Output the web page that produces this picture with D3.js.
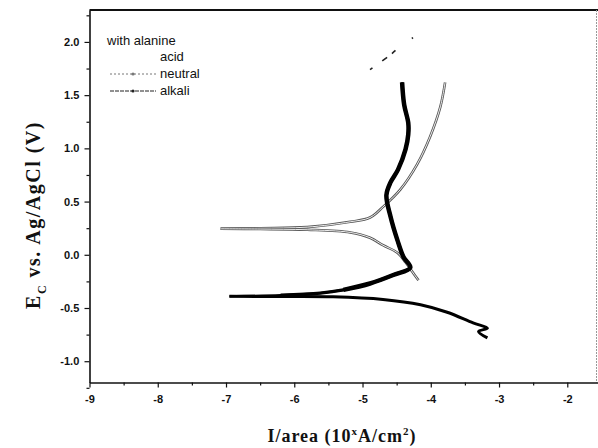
<!DOCTYPE html>
<html>
<head>
<meta charset="utf-8">
<script src="https://cdn.jsdelivr.net/npm/d3@7"></script>
<style>
  html, body { margin: 0; padding: 0; background: #fff; }
  svg { display: block; }
  .tick text { font-family: "Liberation Sans", Arial, sans-serif; font-weight: bold; font-size: 11px; fill: #111; }
  .axis-title { font-family: "Liberation Serif", "Times New Roman", serif; font-weight: bold; fill: #111; }
  .legend text { font-family: "Liberation Sans", Arial, sans-serif; font-size: 13px; fill: #111; }
</style>
</head>
<body>
<svg id="chart" width="598" height="448"></svg>
<script>
// ---- data: [log current density, potential V] ----
const xTicks = [-9, -8, -7, -6, -5, -4, -3, -2];
const yTicks = [-1.0, -0.5, 0.0, 0.5, 1.0, 1.5, 2.0];

const neutralUp = [
  [-7.08, 0.244], [-6.50, 0.25], [-5.81, 0.26], [-5.18, 0.31], [-4.89, 0.35],
  [-4.70, 0.45], [-4.45, 0.61], [-4.20, 0.85], [-4.01, 1.11], [-3.86, 1.39], [-3.79, 1.62]
];
const neutralDown = [
  [-7.08, 0.244], [-6.50, 0.242], [-5.81, 0.235], [-5.18, 0.21], [-4.89, 0.16],
  [-4.70, 0.09], [-4.49, 0.02], [-4.37, -0.07], [-4.27, -0.16], [-4.18, -0.24]
];
const alkaliUp = [
  [-6.95, -0.39], [-6.20, -0.378], [-5.62, -0.36], [-5.28, -0.33], [-4.89, -0.27],
  [-4.55, -0.19], [-4.30, -0.12], [-4.40, -0.02], [-4.49, 0.14], [-4.59, 0.36],
  [-4.65, 0.56], [-4.59, 0.68], [-4.48, 0.80], [-4.37, 0.99], [-4.33, 1.13],
  [-4.33, 1.24], [-4.39, 1.41], [-4.42, 1.62]
];
const alkaliDown = [
  [-6.95, -0.39], [-6.20, -0.392], [-5.43, -0.395], [-4.70, -0.42], [-4.15, -0.47],
  [-3.76, -0.54], [-3.38, -0.64], [-3.17, -0.69], [-3.30, -0.72], [-3.17, -0.78]
];
const acidTrace = [[-4.89, 1.74], [-4.59, 1.88], [-4.48, 1.94], [-4.26, 2.04]];

const legendHead = "with alanine";
const legendNames = ["acid", "neutral", "alkali"];

// ---- layout ----
const svg = d3.select("#chart");
const x = d3.scaleLinear().domain([-9, -1.55]).range([89.5, 598]);
const y = d3.scaleLinear().domain([-1.2, 2.3]).range([382.5, 10]);
const line = d3.line().x(d => x(d[0])).y(d => y(d[1])).curve(d3.curveCatmullRom.alpha(0.5));
const asciiFmt = p => d => d.toFixed(p);   // plain hyphen, like the original

// frame
svg.append("line").attr("x1", x(-9)).attr("x2", 598).attr("y1", y(2.3)).attr("y2", y(2.3))
  .attr("stroke", "#111").attr("stroke-width", 2);
svg.append("line").attr("x1", 596.5).attr("x2", 596.5).attr("y1", y(2.3)).attr("y2", y(-1.2))
  .attr("stroke", "#999").attr("stroke-width", 1).attr("stroke-dasharray", "2,1");

// axes
const xAxis = d3.axisBottom(x).tickValues(xTicks).tickSize(5).tickSizeOuter(0).tickFormat(asciiFmt(0));
const gx = svg.append("g").attr("transform", `translate(0,${y(-1.2)})`).call(xAxis);
gx.selectAll(".tick text").attr("dy", "1.1em");
svg.append("g").attr("transform", `translate(0,${y(-1.2)})`)
  .call(d3.axisBottom(x).tickValues(d3.range(-8.5, -1.5, 1)).tickSize(3).tickFormat(""))
  .select(".domain").remove();

const yAxis = d3.axisLeft(y).tickValues(yTicks).tickSize(5).tickSizeOuter(0).tickFormat(asciiFmt(1));
const gy = svg.append("g").attr("transform", `translate(${x(-9)},0)`).call(yAxis);
gy.selectAll(".tick text").attr("dx", "-0.2em");
svg.append("g").attr("transform", `translate(${x(-9)},0)`)
  .call(d3.axisLeft(y).tickValues(d3.range(-1.25, 2.3, 0.5)).tickSize(3).tickFormat(""))
  .select(".domain").remove();

svg.selectAll(".domain").attr("stroke", "#111").attr("stroke-width", 1.6);
svg.selectAll(".tick line").attr("stroke", "#111").attr("stroke-width", 1.2);

// axis titles
const xt = svg.append("text").attr("class", "axis-title")
  .attr("x", 342).attr("y", 442).attr("text-anchor", "middle")
  .style("font-size", "18px").style("letter-spacing", "1px");
xt.append("tspan").text("I/area (10");
xt.append("tspan").attr("dy", -7).attr("font-size", 11).text("x");
xt.append("tspan").attr("dy", 7).text("A/cm");
xt.append("tspan").attr("dy", -7).attr("font-size", 11).text("2");
xt.append("tspan").attr("dy", 7).text(")");

const yt = svg.append("text").attr("class", "axis-title")
  .attr("transform", "translate(40,215) rotate(-90)").attr("text-anchor", "middle")
  .style("font-size", "20px").style("letter-spacing", "1.5px");
yt.append("tspan").text("E");
yt.append("tspan").attr("dy", 6).attr("font-size", 12).text("C");
yt.append("tspan").attr("dy", -6).text(" vs. Ag/AgCl (V)");

// curves
const plot = svg.append("g");
[neutralUp, neutralDown].forEach(d => {
  plot.append("path").datum(d).attr("d", line).attr("fill", "none")
    .attr("stroke", "#555").attr("stroke-width", 2.6);
  plot.append("path").datum(d).attr("d", line).attr("fill", "none")
    .attr("stroke", "#fff").attr("stroke-width", 0.9);
});
plot.append("path").datum(acidTrace).attr("d", line).attr("fill", "none")
  .attr("stroke", "#222").attr("stroke-width", 1.6).attr("stroke-dasharray", "3,12,6,6,5,20");
plot.append("path").datum(alkaliDown).attr("d", line).attr("fill", "none")
  .attr("stroke", "#000").attr("stroke-width", 3).attr("stroke-linejoin", "round");
// thin tail on the left, getting heavier towards the nose
[[0, 2.2], [1, 3.2], [3, 4.5]].forEach(([start, w]) => {
  plot.append("path").datum(alkaliUp.slice(start)).attr("d", line).attr("fill", "none")
    .attr("stroke", "#000").attr("stroke-width", w).attr("stroke-linejoin", "round");
});

// legend
const lg = svg.append("g").attr("class", "legend");
lg.append("text").attr("x", 107).attr("y", 45).text(legendHead);
legendNames.forEach((name, i) => {
  const ly = 57 + i * 17;
  lg.append("text").attr("x", 160).attr("y", ly + 4).text(name);
  if (i === 0) return;
  const col = i === 1 ? "#777" : "#222";
  lg.append("line").attr("x1", 110).attr("x2", 156).attr("y1", ly).attr("y2", ly)
    .attr("stroke", col).attr("stroke-width", 1).attr("stroke-dasharray", i === 1 ? "2,2" : "4,1");
  lg.append("circle").attr("cx", 133).attr("cy", ly).attr("r", 1.6).attr("fill", col);
});
</script>
</body>
</html>
